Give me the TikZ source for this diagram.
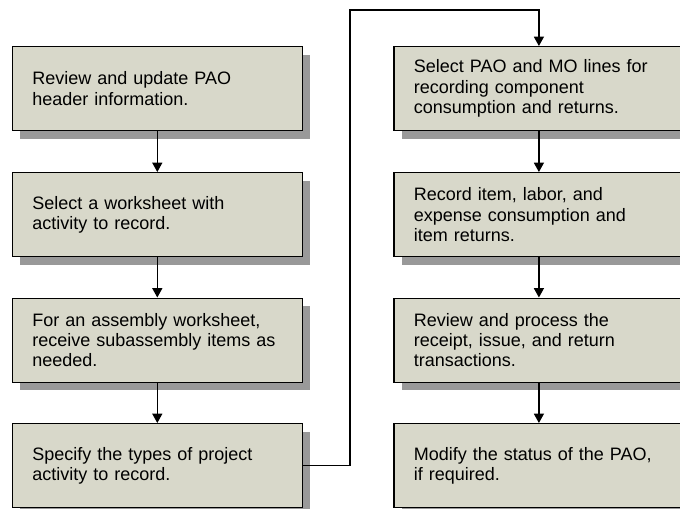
\documentclass[tikz,border=0pt]{standalone}
\usepackage{fontspec}
\setmainfont{Liberation Sans}
\usetikzlibrary{arrows.meta,shadows}
\definecolor{boxfill}{RGB}{216,216,202}
\definecolor{shadowgray}{RGB}{153,153,153}
\begin{document}
\begin{tikzpicture}[x=0.75pt,y=-0.75pt,
  stepbox/.style={draw=black,line width=0.9pt,fill=boxfill,anchor=north west,
    minimum width=217.5pt,minimum height=63pt,text width=187.5pt,inner xsep=15pt,inner ysep=0pt,
    align=left,font=\fontsize{13.5pt}{15.2pt}\selectfont,
    drop shadow={shadow xshift=6pt,shadow yshift=-6pt,fill=shadowgray,opacity=1}},
  arr/.style={draw=black,line width=0.9pt,-{Triangle[width=7.5pt,length=7pt]}}]
\useasboundingbox (0,0) rectangle (680,508);
\node[stepbox] (b1) at (11.7,46) {Review and update PAO\\header information.};
\node[stepbox] (b2) at (11.7,172) {Select a worksheet with\\activity to record.};
\node[stepbox] (b3) at (11.7,297.5) {For an assembly worksheet,\\receive subassembly items as\\needed.};
\node[stepbox] (b4) at (11.7,423) {Specify the types of project\\activity to record.};
\node[stepbox] (b5) at (393.3,46) {Select PAO and MO lines for\\recording component\\consumption and returns.};
\node[stepbox] (b6) at (393.3,172) {Record item, labor, and\\expense consumption and\\item returns.};
\node[stepbox] (b7) at (393.3,297.5) {Review and process the\\receipt, issue, and return\\transactions.};
\node[stepbox] (b8) at (393.3,423) {Modify the status of the PAO,\\if required.};
\draw[arr] (b1.south) -- (b2.north);
\draw[arr] (b2.south) -- (b3.north);
\draw[arr] (b3.south) -- (b4.north);
\draw[arr] (b5.south) -- (b6.north);
\draw[arr] (b6.south) -- (b7.north);
\draw[arr] (b7.south) -- (b8.north);
\coordinate (turn) at (350,10);
\draw[arr] (b4.east) -| (turn) -| (b5.north);
\end{tikzpicture}
\end{document}
